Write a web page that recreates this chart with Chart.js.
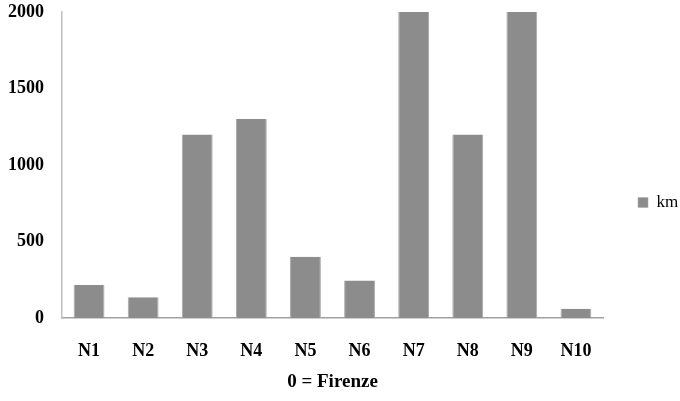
<!DOCTYPE html>
<html>
<head>
<meta charset="utf-8">
<script src="https://cdn.jsdelivr.net/npm/chart.js@4/dist/chart.umd.min.js"></script>
<style>
  html, body { margin: 0; padding: 0; background: #fff; }
  #wrap { width: 680px; height: 401px; }
</style>
</head>
<body>
<div id="wrap"><canvas id="kmchart"></canvas></div>
<script>
const categories = ["N1", "N2", "N3", "N4", "N5", "N6", "N7", "N8", "N9", "N10"];
const kmValues = [215, 135, 1200, 1300, 400, 245, 2000, 1200, 2000, 60];
const yTicks = [0, 500, 1000, 1500, 2000];

const serif = "'Liberation Serif', 'Times New Roman', serif";

new Chart(document.getElementById("kmchart"), {
    type: "bar",
    data: {
        labels: categories,
        datasets: [{
            label: "km",
            data: kmValues,
            backgroundColor: "#8c8c8c",
            borderColor: "#a8a8a8",
            borderWidth: { left: 1, right: 1, top: 0, bottom: 0 },
            barPercentage: 0.57,
            categoryPercentage: 1
        }]
    },
    options: {
        responsive: true,
        maintainAspectRatio: false,
        animation: false,
        layout: { autoPadding: false, padding: { top: 12, right: 0, left: 0, bottom: 8 } },
        plugins: {
            tooltip: { enabled: false },
            legend: {
                position: "right",
                maxWidth: 77,
                labels: {
                    boxWidth: 10,
                    boxHeight: 10,
                    padding: 35,
                    color: "#000",
                    font: { family: serif, size: 17 }
                }
            }
        },
        scales: {
            x: {
                grid: { display: false, drawTicks: false },
                border: { color: "#a0a0a0", width: 1.5 },
                afterFit: (axis) => { axis.height = 75; },
                ticks: {
                    padding: 23,
                    color: "#000",
                    font: { family: serif, size: 18, weight: "bold" }
                },
                title: {
                    display: true,
                    text: "0 = Firenze",
                    color: "#000",
                    padding: { top: 16, bottom: 0 },
                    font: { family: serif, size: 19, weight: "bold" }
                }
            },
            y: {
                min: 0,
                max: 2000,
                afterBuildTicks: (axis) => {
                    axis.ticks = yTicks.map(v => ({ value: v }));
                },
                afterFit: (axis) => {
                    axis.width = 62;
                    axis.paddingTop = 0;
                    axis.paddingBottom = 0;
                },
                grid: { display: false, drawTicks: false },
                border: { color: "#c0c0c0", width: 1.5 },
                ticks: {
                    padding: 18,
                    color: "#000",
                    font: { family: serif, size: 18, weight: "bold" },
                    callback: (v) => String(v)
                }
            }
        }
    }
});
</script>
</body>
</html>
